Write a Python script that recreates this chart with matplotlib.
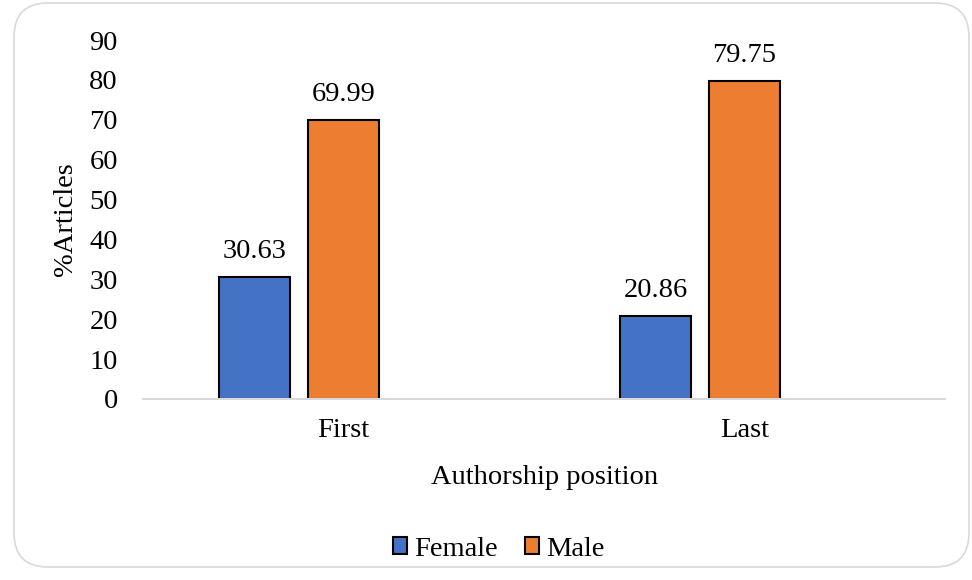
import numpy as np
import matplotlib
matplotlib.use('Agg')
import matplotlib.pyplot as plt
from matplotlib.patches import FancyBboxPatch, Patch

plt.rcParams['font.family'] = ['Liberation Serif', 'DejaVu Serif']

# data
positions = ['First', 'Last']
female = [30.63, 20.86]
male = [69.99, 79.75]

fig = plt.figure(figsize=(9.72, 5.8), dpi=100)
W, H = 972, 580

# rounded grey frame around the chart
frame = FancyBboxPatch((14 / W, 13 / H), 955 / W, 564 / H,
                       boxstyle='round,pad=0,rounding_size=0.035',
                       transform=fig.transFigure, facecolor='white',
                       edgecolor='#d9d9d9', linewidth=1.2, mutation_aspect=W / H,
                       zorder=-5)
fig.patches.append(frame)

ax = fig.add_axes([143 / W, 1 - 399 / H, 802 / W, 359 / H])
ax.set_facecolor('none')

x = np.arange(len(positions))
bw = 0.177
off = 0.221
b1 = ax.bar(x - off, female, bw, color='#4472c4', edgecolor='black', linewidth=1.5, label='Female')
b2 = ax.bar(x, male, bw, color='#ed7d31', edgecolor='black', linewidth=1.5, label='Male')

for bars, vals in [(b1, female), (b2, male)]:
    for r, v in zip(bars, vals):
        ax.annotate(f'{v:.2f}', (r.get_x() + r.get_width() / 2, v),
                    xytext=(0, 9), textcoords='offset points',
                    ha='center', va='bottom', fontsize=20.5)

ax.set_xlim(-0.5, 1.5)
ax.set_ylim(0, 90)
ax.set_yticks(range(0, 91, 10))
ax.set_xticks(x)
ax.set_xticklabels(positions)
ax.tick_params(axis='both', length=0, labelsize=20.5)
ax.tick_params(axis='y', pad=18)
ax.tick_params(axis='x', pad=14)
for s in ['top', 'right', 'left']:
    ax.spines[s].set_visible(False)
ax.spines['bottom'].set_color('#d9d9d9')
ax.spines['bottom'].set_linewidth(1.5)

fig.text(429 / W + 0.119, 1 - 478 / H, 'Authorship position', ha='center', va='center', fontsize=20.5)
fig.text(65 / W, 1 - 219 / H, '%Articles', ha='center', va='center', rotation=90, fontsize=20.5)

handles = [Patch(facecolor='#4472c4', edgecolor='black', linewidth=1.5),
           Patch(facecolor='#ed7d31', edgecolor='black', linewidth=1.5)]
fig.legend(handles, ['Female', 'Male'], loc='center', bbox_to_anchor=(499 / W, 1 - 549 / H),
           ncol=2, frameon=False, fontsize=20.5, handlelength=0.5, handleheight=0.5,
           handletextpad=0.25, columnspacing=0.95)

fig.savefig('out.png', dpi=100)
